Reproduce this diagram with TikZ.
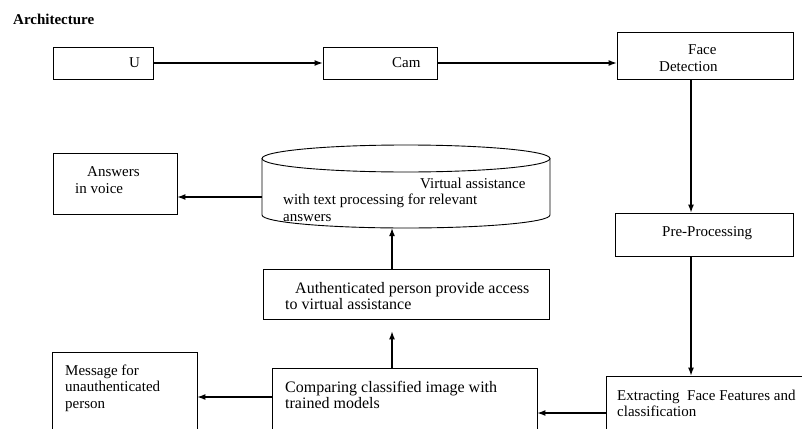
\documentclass[tikz,border=0pt]{standalone}
\usepackage{fontspec}
\setmainfont{Liberation Serif}
\usetikzlibrary{arrows.meta}

\begin{document}
\begin{tikzpicture}[x=1pt,y=-1pt,
    blok/.style={draw, line width=0.9pt, inner sep=0pt},
    tekst/.style={anchor=north west, align=left, inner sep=0pt, font=\fontsize{15}{16.5}\selectfont},
    breed/.style={font=\fontsize{16}{16}\selectfont},
    pijl/.style={line width=1.1pt, -{Latex[length=8pt,width=6pt]}}]
            \useasboundingbox (0, 0) rectangle (802, 428);
            \clip (0, 0) rectangle (802, 428);
            \coordinate (spine) at (691, 0);
            \coordinate (mid) at (392, 0);
            \coordinate (row) at (0, 397);
            \draw (13, 13.5) node[tekst, font=\fontsize{15}{16.5}\selectfont\bfseries](title){Architecture};
            % top row
            \draw (103, 63) node[blok, minimum width=100pt, minimum height=32pt](u){};
            \draw (129, 57.5) node[tekst](ut){U};
            \draw (380, 63) node[blok, minimum width=114pt, minimum height=32pt](cam){};
            \draw (392, 57.5) node[tekst](camt){Cam};
            \draw[pijl] (u) -- (cam);
            \draw (705, 55.5) node[blok, minimum width=176pt, minimum height=47pt](face){};
            \draw (659, 44.5) node[tekst](facet){\hspace*{29pt}Face\\Detection};
            \draw[pijl] (cam.east) -- (cam.east -| face.west);
            % right column
            \draw (704, 234.5) node[blok, minimum width=178pt, minimum height=43pt](pre){};
            \draw (662, 226.5) node[tekst](pret){Pre-Processing};
            \draw[pijl] (spine |- face.south) -- (spine |- pre.north);
            \draw (713, 413) node[blok, minimum width=214pt, minimum height=74pt](extr){};
            \draw (617, 389.5) node[tekst](extrt){Extracting\ \ Face Features and\\classification};
            \draw[pijl] (spine |- pre.south) -- (spine |- extr.north);
            % bottom row
            \draw (404.5, 409) node[blok, minimum width=265pt, minimum height=82pt](comp){};
            \draw (285, 381.5) node[tekst, breed](compt){Comparing classified image with\\trained models};
            \draw[pijl] (extr.west) -- (extr.west -| comp.east);
            \draw (124.5, 401) node[blok, minimum width=145pt, minimum height=98pt](msg){};
            \draw (65, 364.5) node[tekst](msgt){Message for\\unauthenticated\\person};
            \draw[pijl] (comp.west |- row) -- (msg.east |- row);
            % middle column
            \draw (406, 294) node[blok, minimum width=286pt, minimum height=50pt](auth){};
            \draw (285, 282.5) node[tekst, breed](autht){\hspace*{10pt}Authenticated person provide access\\to virtual assistance};
            \draw[pijl, shorten >=12pt] (mid |- comp.north) -- (mid |- auth.south);
            \draw (406, 197) node[minimum width=288pt, minimum height=62pt, inner sep=0pt](va){};
            \draw[line width=0.9pt] (406, 158.5) ellipse (144 and 13.5);
            \draw[line width=0.9pt] (262, 158.5) -- (262, 215)
                .. controls (262, 222.2) and (326.5, 228) .. (406, 228)
                .. controls (485.5, 228) and (550, 222.2) .. (550, 215) -- (550, 158.5);
            \draw (283, 177.5) node[tekst](vat){\hspace*{137pt}Virtual assistance\\with text processing for relevant\\answers};
            \draw[pijl] (mid |- auth.north) -- (mid |- va.south);
            \draw (115, 183.5) node[blok, minimum width=124pt, minimum height=61pt](ans){};
            \draw (75, 166.5) node[tekst](anst){\hspace*{12pt}Answers\\in voice};
            \draw[pijl] (va.west) -- (va.west -| ans.east);
\end{tikzpicture}
\end{document}
